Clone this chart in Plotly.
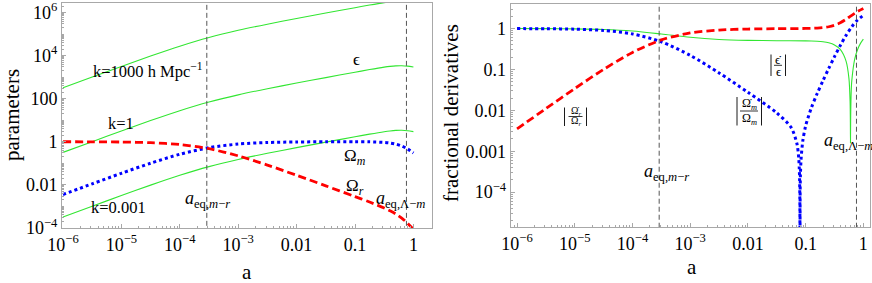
import plotly.graph_objects as go

# ---------------- data ----------------
# Left panel: "parameters" vs a
a_left = [1e-6, 3.162e-6, 1e-5, 3.162e-5, 1e-4, 3.162e-4, 1e-3, 3.162e-3, 0.01, 0.03162,
          0.1, 0.1778, 0.3162, 0.3981, 0.5012, 0.631, 0.7943, 1.0]
omega_r_left = [0.99648, 0.98896, 0.96591, 0.8996, 0.73913, 0.47256, 0.22078, 0.08223, 0.027553,
                0.00888, 0.002819, 0.00157, 0.000834, 0.00062, 0.000438, 0.000283, 0.000164, 0.000085]
omega_m_left = [0.003517, 0.011038, 0.03409, 0.1004, 0.26087, 0.52744, 0.77922, 0.91777, 0.97245,
                0.99105, 0.99486, 0.98549, 0.93055, 0.8712, 0.7727, 0.6303, 0.4609, 0.30]
eps_k1000 = [319, 1007, 3148, 9594, 27540, 69660, 150300, 290400, 530900, 955000, 1698000,
             2254000, 2924000, 3170000, 3350000, 3396000, 3258000, 2951000]
eps_k1 = [0.319, 1.007, 3.148, 9.594, 27.54, 69.66, 150.3, 290.4, 530.9, 955.0, 1698,
          2254, 2924, 3170, 3350, 3396, 3258, 2951]
eps_k0001 = [0.000319, 0.001007, 0.003148, 0.009594, 0.02754, 0.06966, 0.1503, 0.2904, 0.5309,
             0.955, 1.698, 2.254, 2.924, 3.170, 3.350, 3.396, 3.258, 2.951]

# Right panel: fractional derivatives vs a
a_red = [1e-6, 3.162e-6, 1e-5, 3.162e-5, 1e-4, 3.162e-4, 1e-3, 3.162e-3, 0.01, 0.03162,
         0.1, 0.1259, 0.1585, 0.1995, 0.2512, 0.3162, 0.3981, 0.5012, 0.631, 0.7943, 1.0]
dlog_omega_r = [0.003517, 0.011038, 0.03409, 0.1004, 0.26087, 0.52744, 0.77922, 0.91777, 0.97246,
                0.99134, 1.0041, 1.0119, 1.0257, 1.0532, 1.1059, 1.2052, 1.3842, 1.6807, 2.1079,
                2.6169, 3.1]
a_blue = [1e-6, 3.162e-6, 1e-5, 3.162e-5, 1e-4, 3.162e-4, 1e-3, 3.162e-3, 0.01, 0.03162,
          0.05623, 0.07079, 0.07586, 0.07762, 0.07852, 0.07943, 0.0798, 0.08035, 0.08128,
          0.08318, 0.08913, 0.1, 0.1259, 0.1585, 0.1995, 0.2512, 0.3162, 0.3981, 0.5012,
          0.631, 0.7943, 1.0]
dlog_omega_m = [0.9965, 0.989, 0.9659, 0.8996, 0.7391, 0.4726, 0.2208, 0.0822, 0.02755, 0.00866,
                0.003773, 0.001511, 0.000676, 0.000374, 0.000218, 0.0000585, 1e-6, 0.000105,
                0.000273, 0.000619, 0.001768, 0.004145, 0.01163, 0.02579, 0.0531, 0.1058,
                0.2051, 0.3841, 0.6805, 1.108, 1.617, 2.0997]
a_green = [1e-6, 3.162e-6, 1e-5, 3.162e-5, 1e-4, 3.162e-4, 1e-3, 3.162e-3, 0.01, 0.03162,
           0.1, 0.1259, 0.1585, 0.1995, 0.2512, 0.3162, 0.3981, 0.5012, 0.5623, 0.5888,
           0.5957, 0.5984, 0.6026, 0.6166, 0.631, 0.7079, 0.7943, 0.8913, 1.0]
dlog_eps = [0.99824, 0.9945, 0.98296, 0.9498, 0.86956, 0.7363, 0.6104, 0.5411, 0.51378, 0.50433,
            0.4979, 0.49456, 0.4870, 0.4736, 0.4472, 0.3975, 0.30804, 0.1599, 0.0604, 0.01633,
            0.00491, 0.0016, 0.0066, 0.0301, 0.054, 0.1792, 0.3083, 0.4342, 0.55]

a_eq = [2.9e-4, 0.76]   # matter-radiation and Lambda-matter equality

x_tickvals = [1e-6, 1e-5, 1e-4, 1e-3, 0.01, 0.1, 1]
x_ticktext = ["10<sup>\u22126</sup>", "10<sup>\u22125</sup>", "10<sup>\u22124</sup>",
              "10<sup>\u22123</sup>", "0.01", "0.1", "1"]
yl_tickvals = [1e-4, 0.01, 1, 100, 1e4, 1e6]
yl_ticktext = ["10<sup>\u22124</sup>", "0.01", "1", "100", "10<sup>4</sup>", "10<sup>6</sup>"]
yr_tickvals = [1e-4, 1e-3, 0.01, 0.1, 1]
yr_ticktext = ["10<sup>\u22124</sup>", "0.001", "0.01", "0.1", "1"]

# ---------------- styling ----------------
W, H = 872, 283
FONT = "Liberation Serif"
GREEN = "rgb(50,230,50)"
RED = "rgb(255,0,0)"
BLUE = "rgb(0,0,255)"
FRAME = "#a8a8a8"


def px(x):
    return x / W


def py(y):
    return 1 - y / H


fig = go.Figure()

green_line = dict(color=GREEN, width=1.1, shape="spline", smoothing=0.8)
red_line = dict(color=RED, width=2.8, dash="8px,4px", shape="spline", smoothing=0.8)
blue_line = dict(color=BLUE, width=3, dash="3px,3px", shape="spline", smoothing=0.8)
vline = dict(color="#555555", width=1, dash="5px,3px")

# left panel
for ys in (eps_k1000, eps_k1, eps_k0001):
    fig.add_trace(go.Scatter(x=a_left, y=ys, mode="lines", line=green_line, xaxis="x", yaxis="y"))
fig.add_trace(go.Scatter(x=a_left, y=omega_m_left, mode="lines", line=blue_line, xaxis="x", yaxis="y"))
fig.add_trace(go.Scatter(x=a_left, y=omega_r_left, mode="lines", line=red_line, xaxis="x", yaxis="y"))
for v in a_eq:
    fig.add_trace(go.Scatter(x=[v, v], y=[1e-8, 1e9], mode="lines", line=vline, xaxis="x", yaxis="y"))

# right panel
fig.add_trace(go.Scatter(x=a_green, y=dlog_eps, mode="lines", line=green_line, xaxis="x2", yaxis="y2"))
fig.add_trace(go.Scatter(x=a_blue, y=dlog_omega_m, mode="lines", line=blue_line, xaxis="x2", yaxis="y2"))
fig.add_trace(go.Scatter(x=a_red, y=dlog_omega_r, mode="lines", line=red_line, xaxis="x2", yaxis="y2"))
for v in a_eq:
    fig.add_trace(go.Scatter(x=[v, v], y=[1e-8, 1e3], mode="lines", line=vline, xaxis="x2", yaxis="y2"))

tickfont = dict(family=FONT, size=18, color="black")
common = dict(type="log", showline=True, mirror=True, linecolor=FRAME, linewidth=1,
              ticks="inside", ticklen=4, tickcolor=FRAME, showgrid=False, zeroline=False,
              tickfont=tickfont, tickmode="array", automargin=False,
              minor=dict(ticks="inside", ticklen=2, tickcolor=FRAME, dtick="D1", showgrid=False))

fig.update_layout(
    width=W, height=H, margin=dict(l=0, r=0, t=0, b=0, autoexpand=False),
    paper_bgcolor="white", plot_bgcolor="white", showlegend=False, hovermode=False,
    xaxis=dict(domain=[px(62), px(431.5)], range=[-6.017, 0.31], anchor="y",
               tickvals=x_tickvals, ticktext=x_ticktext, **common),
    yaxis=dict(domain=[py(228), py(2.5)], range=[-4.01, 6.47], anchor="x",
               tickvals=yl_tickvals, ticktext=yl_ticktext, **common),
    xaxis2=dict(domain=[px(510.7), px(870)], range=[-6.11, 0.115], anchor="y2",
                tickvals=x_tickvals, ticktext=x_ticktext, **common),
    yaxis2=dict(domain=[py(227.3), py(4)], range=[-4.86, 0.60], anchor="x2",
                tickvals=yr_tickvals, ticktext=yr_ticktext, **common),
)

ann = []


def text(x, y, s, size=17, angle=0, xanchor="center"):
    ann.append(dict(x=px(x), y=py(y), xref="paper", yref="paper", text=s, showarrow=False,
                    xanchor=xanchor, yanchor="middle", textangle=angle,
                    font=dict(family=FONT, size=size, color="black")))


# axis titles
text(246.7, 271.5, "a", size=21)
text(691.7, 267, "a", size=21)
text(12, 115, "parameters", size=21, angle=-90)
text(451, 113, "fractional derivatives", size=21, angle=-90)

# left panel labels
text(148, 70, "k=1000 h Mpc<sup>\u22121</sup>", size=16.5)
text(121, 123, "k=1", size=16.5)
text(118, 207, "k=0.001", size=16.5)
text(356, 60, "\u03f5", size=17)
text(355, 157, "\u03a9<sub><i>m</i></sub>", size=17)
text(355, 187, "\u03a9<sub><i>r</i></sub>", size=17)
text(207, 199, "<i>a</i><sub>eq,<i>m</i>\u2212<i>r</i></sub>", size=18)
text(400, 199, "<i>a</i><sub>eq,\u039b\u2212<i>m</i></sub>", size=18)

# right panel labels
text(666, 172, "<i>a</i><sub>eq,<i>m</i>\u2212<i>r</i></sub>", size=18)
text(848, 141, "<i>a</i><sub>eq,\u039b\u2212<i>m</i></sub>", size=18)

shapes = []


def frac(cx, num, den, y_num, y_bar, y_den, half_w, x_l, x_r, y_t, y_b, size):
    text(cx, y_num, num, size=size)
    text(cx, y_den, den, size=size)
    shapes.append(dict(type="line", xref="paper", yref="paper", x0=px(cx - half_w), x1=px(cx + half_w),
                       y0=py(y_bar), y1=py(y_bar), line=dict(color="black", width=0.8)))
    for xx in (x_l, x_r):
        shapes.append(dict(type="line", xref="paper", yref="paper", x0=px(xx), x1=px(xx),
                           y0=py(y_t), y1=py(y_b), line=dict(color="black", width=0.9)))


frac(575.5, "\u03a9\u0307<sub><i>r</i></sub>", "\u03a9<sub><i>r</i></sub>", 111.5, 116.5, 121.5,
     7, 564.5, 586.5, 107.5, 126, 10)
frac(749, "\u03a9\u0307<sub><i>m</i></sub>", "\u03a9<sub><i>m</i></sub>", 104, 111, 118.5,
     9, 737, 761.5, 97, 125.5, 12)
frac(778, "\u03f5\u0307", "\u03f5", 59.5, 65.3, 71, 4, 771, 785.5, 54.5, 76, 13)

fig.update_layout(annotations=ann, shapes=shapes)
fig.write_html("out.html", config={"displayModeBar": False, "staticPlot": True})

# remove the browser's default page margin so the figure sits at the window's corner
with open("out.html", encoding="utf-8") as f:
    html = f.read()
html = html.replace("<head>", "<head><style>html,body{margin:0;padding:0;overflow:hidden;}</style>", 1)
with open("out.html", "w", encoding="utf-8") as f:
    f.write(html)
